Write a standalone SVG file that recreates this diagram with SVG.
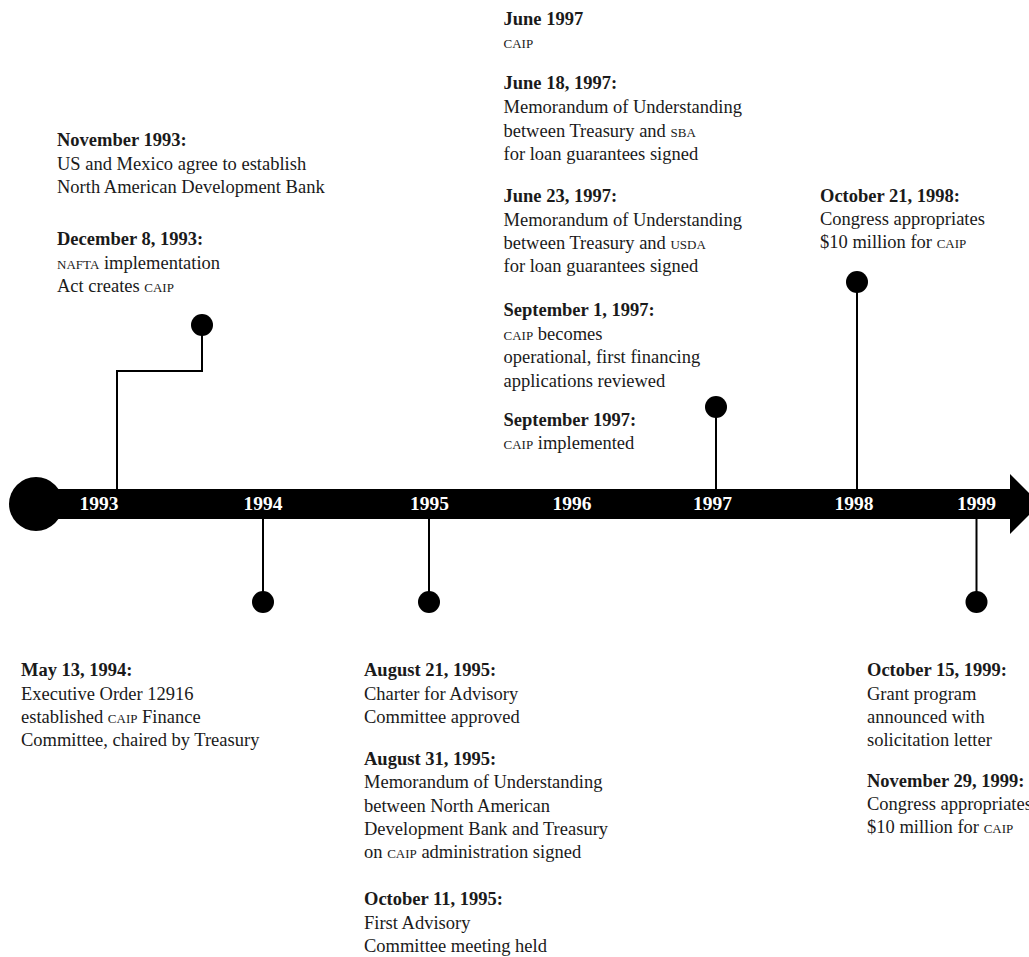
<svg xmlns="http://www.w3.org/2000/svg" width="1029" height="957" viewBox="0 0 1029 957">
<style>
text{font-family:"Liberation Serif","Times New Roman",serif;font-size:18.5px;fill:#1a1a1a}
.h{font-weight:bold}
.sc{font-variant:small-caps}
.yr{font-weight:bold;font-size:19.5px;fill:#fff;text-anchor:middle}
.ln{fill:none;stroke:#000;stroke-width:2}
.dot{fill:#000}
</style>
<rect width="1029" height="957" fill="#fff"/>
<g id="timeline">
<rect x="36" y="489" width="976" height="30" fill="#000"/>
<circle cx="36" cy="504" r="27" fill="#000"/>
<polygon points="1010,474 1040,504 1010,534" fill="#000"/>
<text class="yr" x="99" y="510">1993</text>
<text class="yr" x="263" y="510">1994</text>
<text class="yr" x="429.5" y="510">1995</text>
<text class="yr" x="572" y="510">1996</text>
<text class="yr" x="712.5" y="510">1997</text>
<text class="yr" x="854" y="510">1998</text>
<text class="yr" x="976.5" y="510">1999</text>
</g>
<g id="connectors">
<path class="ln" d="M117,489 V371 H202 V325"/>
<path class="ln" d="M263,519 V602"/>
<path class="ln" d="M429,519 V602"/>
<path class="ln" d="M716,489 V407"/>
<path class="ln" d="M857,489 V282"/>
<path class="ln" d="M976.5,519 V602"/>
<circle class="dot" cx="202" cy="325" r="11"/>
<circle class="dot" cx="263" cy="602" r="11"/>
<circle class="dot" cx="429" cy="602" r="11"/>
<circle class="dot" cx="716" cy="407" r="11"/>
<circle class="dot" cx="857" cy="282" r="11"/>
<circle class="dot" cx="976.5" cy="602" r="11"/>
</g>
<g id="events-1993">
<text x="57" y="146" class="h">November 1993:</text>
<text x="57" y="169.5">US and Mexico agree to establish</text>
<text x="57" y="193">North American Development Bank</text>
<text x="57" y="245" class="h">December 8, 1993:</text>
<text x="57" y="268.5"><tspan class="sc">nafta</tspan> implementation</text>
<text x="57" y="292">Act creates <tspan class="sc">caip</tspan></text>
</g>
<g id="events-1997">
<text x="503.5" y="25" class="h">June 1997</text>
<text x="503.5" y="48" class="sc">caip</text>
<text x="503.5" y="89" class="h">June 18, 1997:</text>
<text x="503.5" y="113">Memorandum of Understanding</text>
<text x="503.5" y="136.5">between Treasury and <tspan class="sc">sba</tspan></text>
<text x="503.5" y="159.5">for loan guarantees signed</text>
<text x="503.5" y="202" class="h">June 23, 1997:</text>
<text x="503.5" y="225.5">Memorandum of Understanding</text>
<text x="503.5" y="249">between Treasury and <tspan class="sc">usda</tspan></text>
<text x="503.5" y="272">for loan guarantees signed</text>
<text x="503.5" y="316" class="h">September 1, 1997:</text>
<text x="503.5" y="340"><tspan class="sc">caip</tspan> becomes</text>
<text x="503.5" y="363">operational, first financing</text>
<text x="503.5" y="387">applications reviewed</text>
<text x="503.5" y="426" class="h">September 1997:</text>
<text x="503.5" y="449"><tspan class="sc">caip</tspan> implemented</text>
</g>
<g id="events-1998">
<text x="820" y="202" class="h">October 21, 1998:</text>
<text x="820" y="225">Congress appropriates</text>
<text x="820" y="248">$10 million for <tspan class="sc">caip</tspan></text>
</g>
<g id="events-1994">
<text x="21" y="676" class="h">May 13, 1994:</text>
<text x="21" y="700">Executive Order 12916</text>
<text x="21" y="723">established <tspan class="sc">caip</tspan> Finance</text>
<text x="21" y="746">Committee, chaired by Treasury</text>
</g>
<g id="events-1995">
<text x="364" y="676" class="h">August 21, 1995:</text>
<text x="364" y="700">Charter for Advisory</text>
<text x="364" y="723">Committee approved</text>
<text x="364" y="765" class="h">August 31, 1995:</text>
<text x="364" y="788">Memorandum of Understanding</text>
<text x="364" y="812">between North American</text>
<text x="364" y="835">Development Bank and Treasury</text>
<text x="364" y="858">on <tspan class="sc">caip</tspan> administration signed</text>
<text x="364" y="905" class="h">October 11, 1995:</text>
<text x="364" y="929">First Advisory</text>
<text x="364" y="952">Committee meeting held</text>
</g>
<g id="events-1999">
<text x="867" y="676" class="h">October 15, 1999:</text>
<text x="867" y="700">Grant program</text>
<text x="867" y="723">announced with</text>
<text x="867" y="746">solicitation letter</text>
<text x="867" y="787" class="h">November 29, 1999:</text>
<text x="867" y="810">Congress appropriates</text>
<text x="867" y="833">$10 million for <tspan class="sc">caip</tspan></text>
</g>
</svg>
